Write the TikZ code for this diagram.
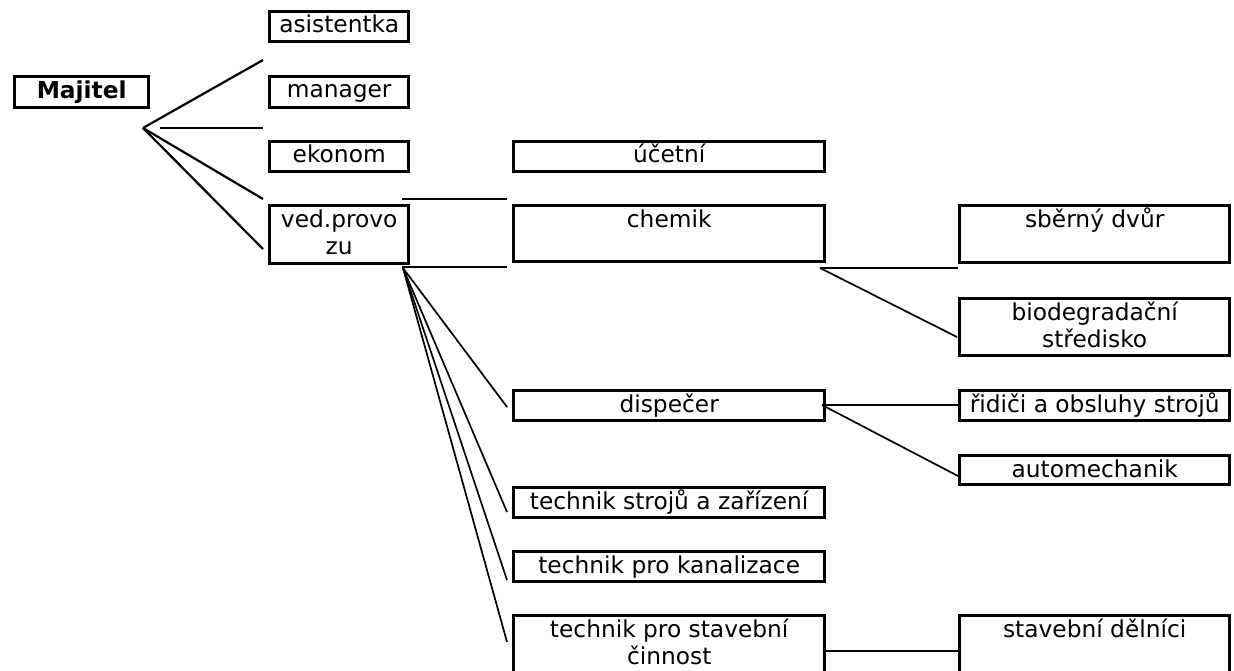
\documentclass[tikz,border=0pt]{standalone}
\usepackage{fontspec}
\setmainfont{DejaVu Sans}
\newcommand\twolines[2]{\vtop{\baselineskip=27pt\halign{\hfil##\hfil\cr#1\cr#2\cr}}}
\begin{document}
\begin{tikzpicture}[x=1pt,y=-1pt,
  box/.style={draw=black,line width=3.4pt,inner sep=0pt,anchor=north west},
  narrowbox/.style={box,minimum width=139pt},
  midbox/.style={box,minimum width=311pt},
  widebox/.style={box,minimum width=270pt},
  txt/.style={anchor=base,inner sep=0pt,font=\fontsize{23.3}{27}\selectfont},
  conn/.style={draw=black,line width=2.2pt},
  fan/.style={draw=black,line width=1.7pt}]
\fill[white] (0,0) rectangle (1234,671);
\useasboundingbox (0,0) rectangle (1234,671);
\clip (0,0) rectangle (1234,671);
% boxes
\node[box,minimum width=134pt,minimum height=31pt] (maj) at (13,75) {};
\node[narrowbox,minimum height=30pt] (asi) at (268,10) {};
\node[narrowbox,minimum height=31pt] (man) at (268,75) {};
\node[narrowbox,minimum height=30pt] (eko) at (268,140) {};
\node[narrowbox,minimum height=58pt] (ved) at (268,204) {};
\node[midbox,minimum height=30pt] (uce) at (512,140) {};
\node[midbox,minimum height=56pt] (che) at (512,204) {};
\node[midbox,minimum height=30pt] (dis) at (512,389) {};
\node[midbox,minimum height=30pt] (tsz) at (512,486) {};
\node[midbox,minimum height=30pt] (tpk) at (512,550) {};
\node[midbox,minimum height=64pt] (tps) at (512,614) {};
\node[widebox,minimum height=57pt] (sbe) at (958,204) {};
\node[widebox,minimum height=57pt] (bio) at (958,297) {};
\node[widebox,minimum height=30pt] (rid) at (958,389) {};
\node[widebox,minimum height=29pt] (aut) at (958,454) {};
\node[widebox,minimum height=64pt] (sta) at (958,614) {};
% texts
\node[txt] (maj-t) at ([yshift=-23.5pt]maj.north) {\bfseries Majitel};
\node[txt] (asi-t) at ([yshift=-23pt]asi.north) {asistentka};
\node[txt] (man-t) at ([yshift=-23pt]man.north) {manager};
\node[txt] (eko-t) at ([yshift=-23pt]eko.north) {ekonom};
\node[txt] (ved-t) at ([yshift=-24pt]ved.north) {\twolines{ved.provo}{zu}};
\node[txt] (uce-t) at ([yshift=-23pt]uce.north) {účetní};
\node[txt] (che-t) at ([yshift=-23pt]che.north) {chemik};
\node[txt] (dis-t) at ([yshift=-23pt]dis.north) {dispečer};
\node[txt] (tsz-t) at ([yshift=-23pt]tsz.north) {technik strojů a zařízení};
\node[txt] (tpk-t) at ([yshift=-23pt]tpk.north) {technik pro kanalizace};
\node[txt] (tps-t) at ([yshift=-23pt]tps.north) {\twolines{technik pro stavební}{činnost}};
\node[txt] (sbe-t) at ([yshift=-23pt]sbe.north) {sběrný dvůr};
\node[txt] (bio-t) at ([yshift=-23pt]bio.north) {\twolines{biodegradační}{středisko}};
\node[txt] (rid-t) at ([yshift=-23pt]rid.north) {řidiči a obsluhy strojů};
\node[txt] (aut-t) at ([yshift=-23pt]aut.north) {automechanik};
\node[txt] (sta-t) at ([yshift=-23pt]sta.north) {stavební dělníci};
% connector points
\coordinate (mjJ) at (143,128);
\coordinate (mjH) at (160,128);
\coordinate (e1) at (263,60);
\coordinate (e2) at (263,128);
\coordinate (e3) at (263,199);
\coordinate (e4) at (263,249);
\coordinate (v1) at (402,199);
\coordinate (v1e) at (507,199);
\coordinate (v2) at (402,267);
\coordinate (v2e) at (507,267);
\coordinate (vf) at (403,268);
\coordinate (f1) at (507,407);
\coordinate (f2) at (507,512);
\coordinate (f3) at (507,580);
\coordinate (f4) at (507,642);
\coordinate (c0) at (820,268);
\coordinate (c1) at (958,268);
\coordinate (c2) at (957,337);
\coordinate (d0) at (822,405);
\coordinate (d1) at (959,405);
\coordinate (d2) at (958,476);
\coordinate (s0) at (825,651);
\coordinate (s1) at (959,651);
% connectors
\draw[conn] (mjJ) -- (e1);
\draw[conn] (mjH) -- (e2);
\draw[conn] (mjJ) -- (e3);
\draw[conn] (mjJ) -- (e4);
\draw[conn] (v1) -- (v1e);
\draw[conn] (v2) -- (v2e);
\draw[fan] (vf) -- (f1);
\draw[fan] (vf) -- (f2);
\draw[fan] (vf) -- (f3);
\draw[fan] (vf) -- (f4);
\draw[conn] (c0) -- (c1);
\draw[fan] (c0) -- (c2);
\draw[conn] (d0) -- (d1);
\draw[fan] (d0) -- (d2);
\draw[conn] (s0) -- (s1);
\end{tikzpicture}
\end{document}
